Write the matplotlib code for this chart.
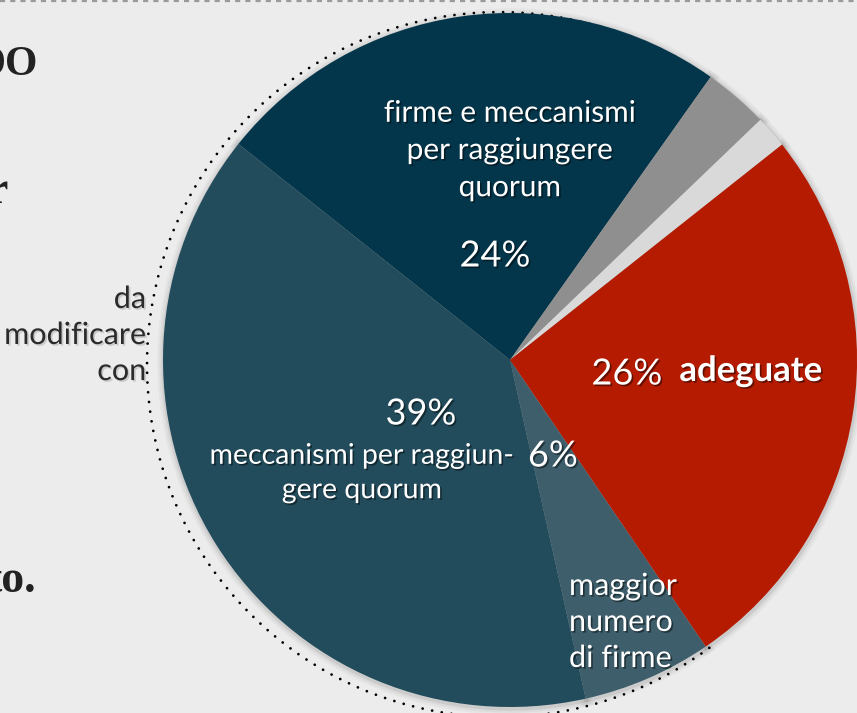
import matplotlib
matplotlib.use("Agg")
import matplotlib.pyplot as plt
from matplotlib.patches import Arc, Wedge
from matplotlib.lines import Line2D
import matplotlib.patheffects as pe

W, H = 857, 713

# ---- data ----
categories = ["firme e meccanismi per raggiungere quorum", "altro", "altro (2)",
              "adeguate", "maggior numero di firme", "meccanismi per raggiungere quorum"]
values = [24, 3, 1.5, 26, 6, 39]
pct_labels = ["24%", "", "", "26%", "6%", "39%"]
colors = ["#03364a", "#8f8f8f", "#d9d9d9", "#b41b00", "#3d5e6a", "#224c5b"]
explode = [0, 0, 0, 0.0375, 0, 0]

BG = "#ececec"
fig = plt.figure(figsize=(W / 100, H / 100), dpi=100, facecolor=BG)
ax = fig.add_axes([0, 0, 1, 1])
ax.set_facecolor(BG)

cx, cy, R = 510, H - 360, 347
wedges, _ = ax.pie(values, colors=colors, explode=explode, startangle=141.5,
                   counterclock=False, radius=R, center=(cx, cy),
                   wedgeprops=dict(linewidth=0, zorder=3))
ax.set_xlim(0, W)
ax.set_ylim(0, H)
ax.set_aspect("equal")
ax.axis("off")

# soft shadows behind wedges
for w in wedges:
    for lw, a in [(9, 0.03), (6, 0.04), (3, 0.07)]:
        sh = Wedge((w.center[0] + 0.5, w.center[1] - 1.5), w.r, w.theta1, w.theta2,
                   facecolor="none", edgecolor="black", lw=lw, alpha=a, zorder=2)
        ax.add_patch(sh)

# dotted arc around the "da modificare con" slices
arc = Arc((499.5, H - 364.6), 2 * 352.5, 2 * 352.5, theta1=38.7, theta2=307.9,
          color="black", lw=2.0, linestyle=(0, (0.01, 3.5)), zorder=1)
arc.set_capstyle("round")
ax.add_patch(arc)

# dashed line at top
ax.add_line(Line2D([0, W], [H - 1.2, H - 1.2], color="#9a9a9a", lw=1.6,
                   dashes=(2.3, 2.3), zorder=5))

LF = "Lato"
shadow = [pe.withSimplePatchShadow(offset=(1.2, -1.2), shadow_rgbFace="black", alpha=0.45)]
lshadow = [pe.withSimplePatchShadow(offset=(1.2, -1.2), shadow_rgbFace="#888888", alpha=0.35)]

def t(x, y, s, size, **kw):
    kw.setdefault("color", "white")
    kw.setdefault("ha", "center")
    kw.setdefault("va", "center")
    kw.setdefault("family", LF)
    kw.setdefault("fontweight", "normal")
    kw.setdefault("path_effects", shadow)
    ax.text(x, H - y, s, fontsize=size, zorder=6, **kw)

t(510, 150, "firme e meccanismi\nper raggiungere\nquorum", 21.5, linespacing=1.4)
t(495, 256, pct_labels[0], 26)
t(421, 414, pct_labels[5], 26)
t(362, 473, "meccanismi per raggiun-\ngere quorum", 20.5, linespacing=1.4)
t(553, 456, pct_labels[4], 26)
t(627, 374, pct_labels[3], 26)
t(751, 371, categories[3], 25, fontweight="bold")
t(569, 622, "maggior\nnumero\ndi firme", 22, ha="left", linespacing=1.35)
t(146, 335, "da\nmodificare\ncon", 22, ha="right", color="#2b2b2b",
  linespacing=1.35, path_effects=lshadow)

# slide text fragments cut at the left edge
SF = "Liberation Serif"
ax.text(38, H - 75, "DO", fontsize=30, family=SF, fontweight="bold", color="#222222",
        ha="right", va="baseline", zorder=6)
ax.text(8, H - 203, "r", fontsize=33, family=SF, fontweight="bold", color="#222222",
        ha="right", va="baseline", zorder=6)
ax.text(36, H - 592, "to.", fontsize=33, family=SF, fontweight="bold", color="#222222",
        ha="right", va="baseline", zorder=6)

fig.savefig("out.png", dpi=100, facecolor=BG)
